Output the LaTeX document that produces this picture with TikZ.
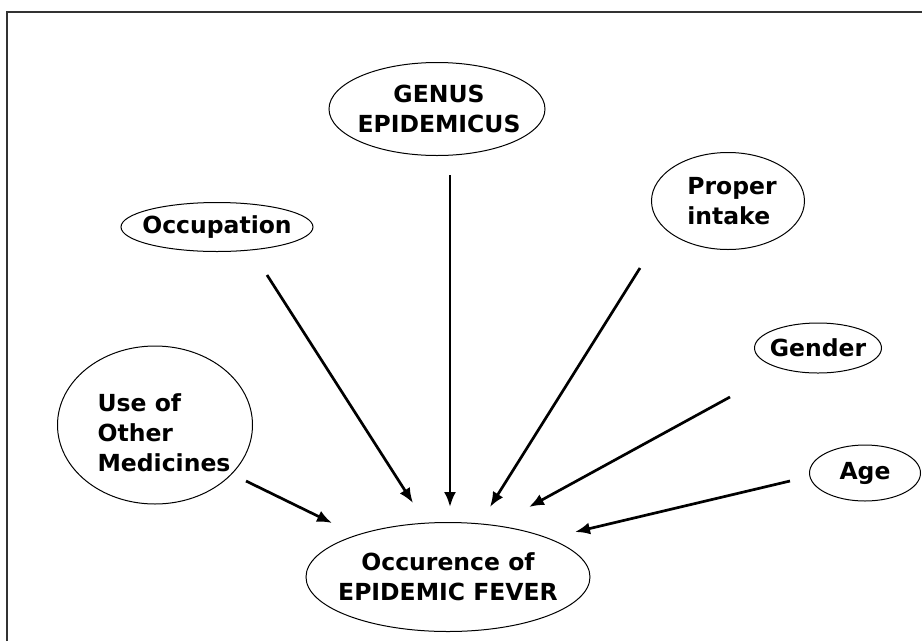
\documentclass[tikz,border=0pt]{standalone}
\usepackage{fontspec}
\setmainfont{DejaVu Sans}
\usetikzlibrary{shapes.geometric,arrows.meta}
\begin{document}
\begin{tikzpicture}[x=1pt,y=-1pt,
		oval/.style={draw,ellipse,line width=1pt,inner sep=0pt},
		txt/.style={align=center,font=\bfseries\fontsize{23.5}{30}\selectfont},
		arr/.style={-{Latex[length=15pt,width=12pt]},line width=2.7pt}]
	\useasboundingbox (0,0) rectangle (922,641);
	\draw[line width=1.3pt,black!80] (7,641) -- (7,12) -- (922,12);
	\node[oval,minimum width=216pt,minimum height=93pt,label={[txt,xshift=2pt]center:GENUS\\EPIDEMICUS}] (genus) at (437,109) {};
	\node[oval,minimum width=192pt,minimum height=49pt,label={[txt]center:Occupation}] (occ) at (217,227) {};
	\node[oval,minimum width=153pt,minimum height=97pt,label={[txt,align=left,xshift=4pt]center:Proper\\intake}] (proper) at (728,201) {};
	\node[oval,minimum width=127pt,minimum height=50pt,label={[txt]center:Gender}] (gender) at (818,348) {};
	\node[oval,minimum width=111pt,minimum height=56pt,label={[txt]center:Age}] (age) at (865,473) {};
	\node[oval,minimum width=195pt,minimum height=158pt,label={[txt,align=left,xshift=9pt,yshift=-8pt]center:Use of\\Other\\Medicines}] (use) at (155,425) {};
	\node[oval,minimum width=284pt,minimum height=109pt,label={[txt]center:Occurence of\\EPIDEMIC FEVER}] (fever) at (448,577) {};
	\coordinate (occ-from) at (267,275);
	\coordinate (occ-to) at (413,503);
	\coordinate (genus-from) at (450,175);
	\coordinate (genus-to) at (450,507);
	\coordinate (proper-from) at (640,268);
	\coordinate (proper-to) at (490,507);
	\coordinate (gender-from) at (730,397);
	\coordinate (gender-to) at (529,507);
	\coordinate (age-from) at (790,481);
	\coordinate (age-to) at (575,532);
	\coordinate (use-from) at (246,481);
	\coordinate (use-to) at (332,523);
	\draw[arr] (occ-from) -- (occ-to);
	\draw[arr] (genus-from) -- (genus-to);
	\draw[arr] (proper-from) -- (proper-to);
	\draw[arr] (gender-from) -- (gender-to);
	\draw[arr] (age-from) -- (age-to);
	\draw[arr] (use-from) -- (use-to);
\end{tikzpicture}
\end{document}
